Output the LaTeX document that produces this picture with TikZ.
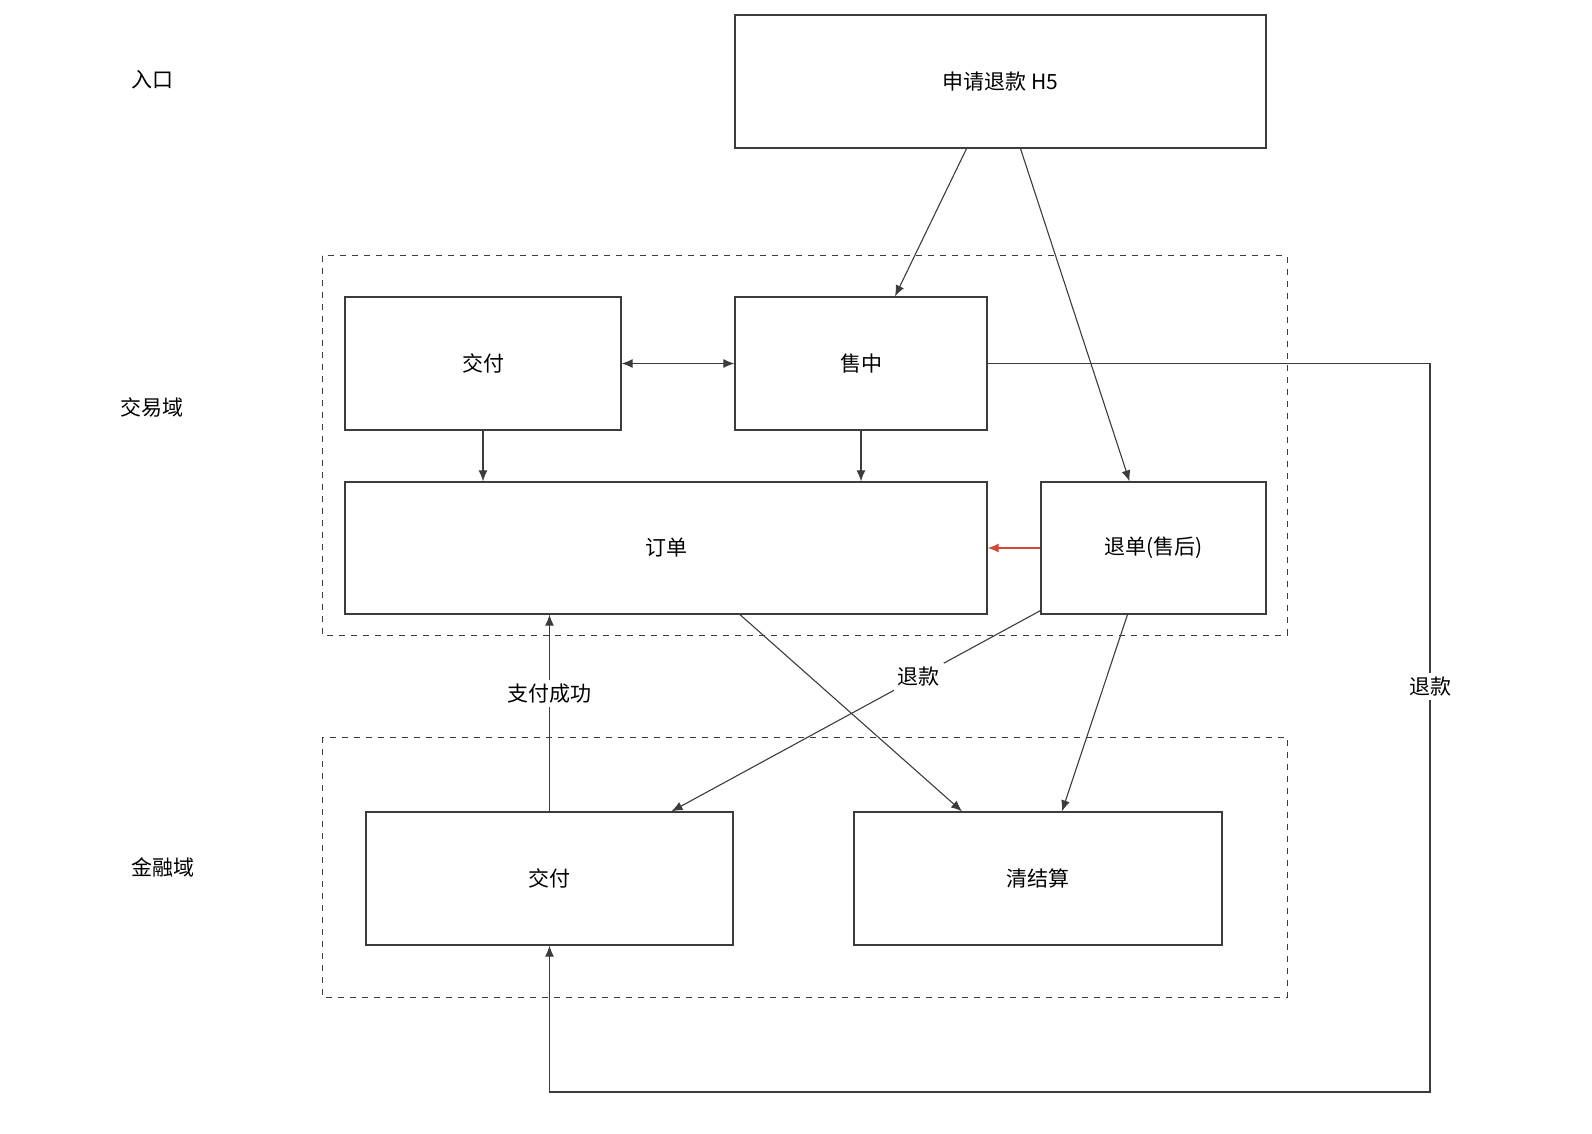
\documentclass[tikz,border=0pt]{standalone}
\usepackage{fontspec}
\setmainfont{Noto Sans CJK SC}
\usetikzlibrary{calc,arrows.meta}
\definecolor{linegray}{HTML}{3C3C3C}
\definecolor{redline}{HTML}{D04A3C}

\begin{document}
\begin{tikzpicture}[x=0.5pt,y=-0.5pt,
  font=\fontsize{10.5pt}{12pt}\selectfont,
  >={Latex[length=5.5pt,width=4.5pt]},
  box/.style={draw=linegray,line width=0.65pt,minimum height=66.5pt,inner sep=0pt},
  conn/.style={draw=linegray,line width=0.55pt},
  lbl/.style={fill=white,inner sep=2pt}]
          \useasboundingbox (0,0) rectangle (1592,1134);
          %\draw[help lines] (0,0) grid (1592,1134);

          % domains
          \node (rk) at (152,80) {入口};
          \node (jyy) at (152,407) {交易域};
          \node (jry) at (163,867) {金融域};
          \draw[linegray,dashed,line width=0.5pt] (322,256) rectangle (1287,635);
          \draw[linegray,dashed,line width=0.5pt] (322,737) rectangle (1287,997);

          % boxes
          \node[box,minimum width=265.5pt] (h5) at (1000.5,81.5) {申请退款 H5};
          \node[box,minimum width=138pt] (jfa) at (483,363.5) {交付};
          \node[box,minimum width=126pt] (sz) at (861,363.5) {售中};
          \node[box,minimum width=321pt,minimum height=66pt] (dd) at (666,548) {订单};
          \node[box,minimum width=112.5pt,minimum height=66pt] (td) at (1153.5,548) {退单(售后)};
          \node[box,minimum width=183.5pt] (jfb) at (549.5,878.5) {交付};
          \node[box,minimum width=184pt] (qjs) at (1038,878.5) {清结算};

          \coordinate (ca) at (1430,363.5);
          \coordinate (cb) at (1430,1092);

          % links
          \draw[conn,->] ([xshift=-17pt]h5.south) -- ([xshift=17pt]sz.north);
          \draw[conn,->] ([xshift=10pt]h5.south) -- ([xshift=-12pt]td.north);
          \draw[conn,<->] (jfa.east) -- (sz.west);
          \draw[conn,->] (jfa.south) -- (jfa.south |- dd.north);
          \draw[conn,->] (sz.south) -- (sz.south |- dd.north);
          \draw[redline,line width=0.55pt,->] (td.west) -- (dd.east);
          \draw[conn,->] (sz.east) -- (ca) -- node[lbl,pos=0.443] {退款} (cb) -| (jfb.south);
          \draw[conn,->] (jfb.north) -- node[lbl,pos=0.6] {支付成功} (jfb.north |- dd.south);
          \draw[conn,->] ([xshift=37pt]dd.south) -- ([xshift=-38pt]qjs.north);
          \draw[conn,->] ([yshift=2pt]td.south west) -- node[lbl,pos=0.33] {退款} ([xshift=61pt]jfb.north);
          \draw[conn,->] ([xshift=-13pt]td.south) -- ([xshift=12pt]qjs.north);
\end{tikzpicture}
\end{document}
